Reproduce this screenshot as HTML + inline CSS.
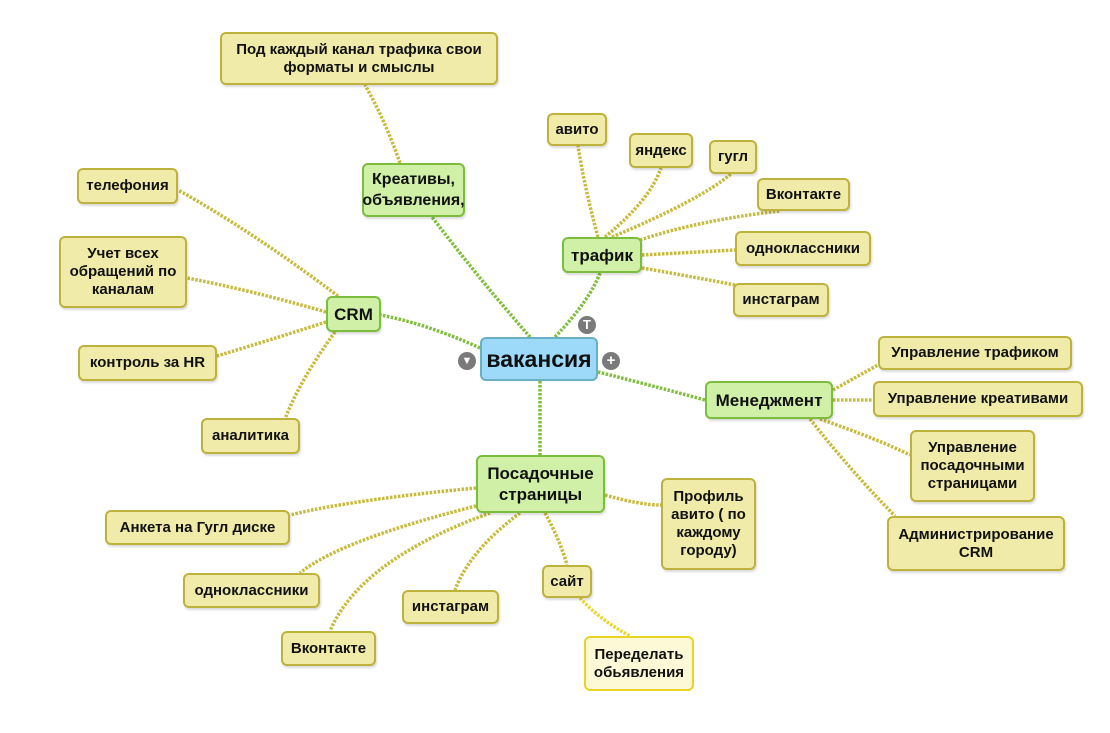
<!DOCTYPE html>
<html><head><meta charset="utf-8"><style>
body{margin:0;width:1110px;height:733px;background:#fff;position:relative;overflow:hidden;font-family:"Liberation Sans","DejaVu Sans",sans-serif;}
.n{position:absolute;box-sizing:border-box;display:flex;align-items:center;justify-content:center;text-align:center;font-weight:bold;font-size:15px;line-height:18px;color:#111;border-radius:6px;white-space:nowrap;}
.y{background:#f0eba8;border:2px solid #bdb33c;box-shadow:1px 2px 2px rgba(0,0,0,0.15);}
.g{background:#d0f0a8;border:2px solid #7dbd3d;font-size:17px;line-height:21px;box-shadow:1px 2px 2px rgba(0,0,0,0.15);}
.p{background:#fdf9d6;border:2px solid #e8d424;}
.b{background:#9dd9f8;border:2px solid #6aafc4;font-size:23px;}
.c{position:absolute;width:18px;height:18px;border-radius:50%;background:#7a7a7a;color:#fff;font-size:15px;line-height:18px;text-align:center;font-weight:bold;}
svg{position:absolute;left:0;top:0}
</style></head><body>
<svg width="1110" height="733" fill="none" stroke-linecap="butt">
<g stroke="#7fbe3a" stroke-width="3.5" stroke-dasharray="2.5 1.5">
<path d="M530 337 Q480 280 432 217"/>
<path d="M555 337 Q590 300 600 273"/>
<path d="M480 348 Q430 325 381 315"/>
<path d="M598 372 Q650 385 705 400"/>
<path d="M540 381 L540 455"/>
</g>
<g stroke="#c7bb3c" stroke-width="3.5" stroke-dasharray="2.5 1.5">
<path d="M400 163 Q385 120 365 85"/>
<path d="M598 237 Q585 190 578 146"/>
<path d="M605 237 Q650 200 661 168"/>
<path d="M612 237 Q700 200 731 174"/>
<path d="M640 240 Q700 220 780 211"/>
<path d="M642 255 L735 250"/>
<path d="M642 268 Q700 278 735 285"/>
<path d="M338 296 Q250 230 178 190"/>
<path d="M326 312 Q250 290 187 278"/>
<path d="M326 322 Q270 340 217 356"/>
<path d="M335 332 Q300 380 285 419"/>
<path d="M833 390 Q860 375 878 365"/>
<path d="M833 400 L873 400"/>
<path d="M820 419 Q880 440 910 455"/>
<path d="M810 419 Q850 470 895 516"/>
<path d="M476 488 Q350 500 290 515"/>
<path d="M480 505 Q340 540 300 573"/>
<path d="M490 513 Q360 560 330 631"/>
<path d="M520 513 Q470 550 455 590"/>
<path d="M545 513 Q560 540 567 565"/>
<path d="M605 495 Q640 505 661 505"/>
</g>
<path d="M580 598 Q600 620 630 636" stroke="#ead628" stroke-width="3.5" stroke-dasharray="2.5 1.5"/>
</svg>

<div class="n b" style="left:480px;top:337px;width:118px;height:44px;">вакансия</div>
<div class="c" style="left:458px;top:352px;font-size:11px;">▼</div>
<div class="c" style="left:602px;top:352px;">+</div>
<div class="c" style="left:578px;top:316px;font-size:13px;">T</div>

<div class="n g" style="left:362px;top:163px;width:103px;height:54px;font-size:16px;">Креативы,<br>объявления,</div>
<div class="n g" style="left:562px;top:237px;width:80px;height:36px;">трафик</div>
<div class="n g" style="left:326px;top:296px;width:55px;height:36px;">CRM</div>
<div class="n g" style="left:705px;top:381px;width:128px;height:38px;">Менеджмент</div>
<div class="n g" style="left:476px;top:455px;width:129px;height:58px;">Посадочные<br>страницы</div>

<div class="n y" style="left:220px;top:32px;width:278px;height:53px;">Под каждый канал трафика свои<br>форматы и смыслы</div>
<div class="n y" style="left:547px;top:113px;width:60px;height:33px;">авито</div>
<div class="n y" style="left:629px;top:133px;width:64px;height:35px;">яндекс</div>
<div class="n y" style="left:709px;top:140px;width:48px;height:34px;">гугл</div>
<div class="n y" style="left:757px;top:178px;width:93px;height:33px;">Вконтакте</div>
<div class="n y" style="left:735px;top:231px;width:136px;height:35px;">одноклассники</div>
<div class="n y" style="left:733px;top:283px;width:96px;height:34px;">инстаграм</div>

<div class="n y" style="left:77px;top:168px;width:101px;height:36px;">телефония</div>
<div class="n y" style="left:59px;top:236px;width:128px;height:72px;">Учет всех<br>обращений по<br>каналам</div>
<div class="n y" style="left:78px;top:345px;width:139px;height:36px;">контроль за HR</div>
<div class="n y" style="left:201px;top:418px;width:99px;height:36px;">аналитика</div>

<div class="n y" style="left:878px;top:336px;width:194px;height:34px;">Управление трафиком</div>
<div class="n y" style="left:873px;top:381px;width:210px;height:36px;">Управление креативами</div>
<div class="n y" style="left:910px;top:430px;width:125px;height:72px;">Управление<br>посадочными<br>страницами</div>
<div class="n y" style="left:887px;top:516px;width:178px;height:55px;">Администрирование<br>CRM</div>

<div class="n y" style="left:105px;top:510px;width:185px;height:35px;">Анкета на Гугл диске</div>
<div class="n y" style="left:183px;top:573px;width:137px;height:35px;">одноклассники</div>
<div class="n y" style="left:281px;top:631px;width:95px;height:35px;">Вконтакте</div>
<div class="n y" style="left:402px;top:590px;width:97px;height:34px;">инстаграм</div>
<div class="n y" style="left:542px;top:565px;width:50px;height:33px;">сайт</div>
<div class="n y" style="left:661px;top:478px;width:95px;height:92px;">Профиль<br>авито ( по<br>каждому<br>городу)</div>
<div class="n p" style="left:584px;top:636px;width:110px;height:55px;">Переделать<br>обьявления</div>
</body></html>
